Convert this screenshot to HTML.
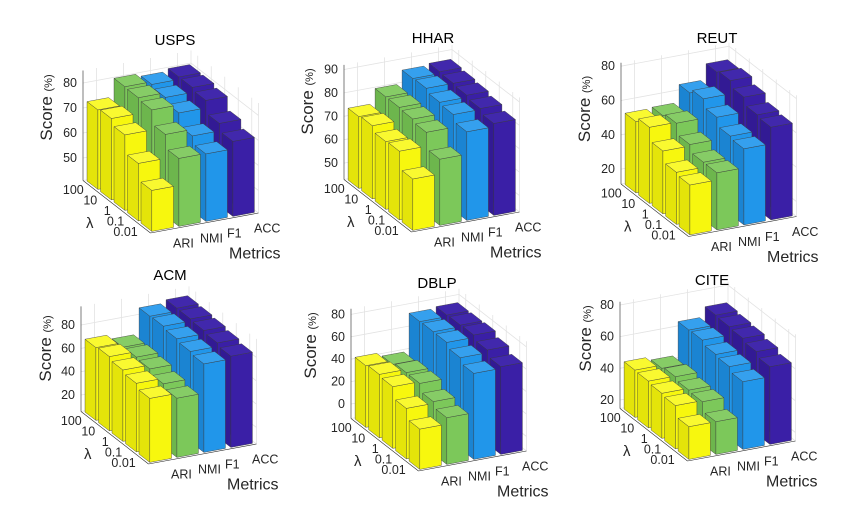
<!DOCTYPE html>
<html><head><meta charset="utf-8"><style>
html,body{margin:0;padding:0;background:#fff;}
svg{display:block;font-family:"Liberation Sans",sans-serif;}
</style></head><body>
<svg id="fig" width="849" height="519" viewBox="0 0 849 519" xmlns="http://www.w3.org/2000/svg"></svg>
<script>
// ---- data (rows: lambda 100,10,1,0.1,0.01; columns by metric) ----
const lambdas = ["100","10","1","0.1","0.01"];
const metrics = ["ARI","NMI","F1","ACC"];
const datasets = ["USPS","HHAR","REUT","ACM","DBLP","CITE"];
const uspsARI = [72.8,73.6,71.2,64.0,57.4];
const uspsNMI = [80.1,79.9,79.2,73.6,68.2];
const uspsF1  = [79.0,78.0,76.0,71.0,68.0];
const uspsACC = [80.0,80.0,79.0,74.0,71.0];
const hharARI = [73.7,74.3,72.0,72.4,65.0];
const hharNMI = [80.0,80.0,79.5,78.3,71.3];
const hharF1  = [85.7,86.0,84.5,83.8,80.9];
const hharACC = [86.5,86.0,85.4,84.2,82.3];
const reutARI = [52.9,55.7,48.0,41.7,40.4];
const reutNMI = [53.5,55.2,48.9,44.7,44.6];
const reutF1  = [63.8,66.5,61.9,57.0,55.7];
const reutACC = [73.0,74.2,70.7,66.5,65.4];
const acmARI = [68.3,69.6,67.1,64.7,60.8];
const acmNMI = [64.4,64.9,63.8,60.0,56.7];
const acmF1  = [86.7,87.1,85.3,83.4,81.8];
const acmACC = [89.3,89.1,88.1,86.5,84.1];
const dblpARI = [42.2,43.8,42.2,32.2,23.1];
const dblpNMI = [38.9,40.9,40.7,33.8,28.8];
const dblpF1  = [72.6,73.0,72.8,68.5,63.9];
const dblpACC = [74.0,74.4,74.9,70.9,65.4];
const citeARI = [44.5,44.2,43.1,42.0,35.3];
const citeNMI = [42.5,43.8,42.0,41.3,35.3];
const citeF1  = [63.5,63.8,61.4,60.3,57.4];
const citeACC = [69.8,69.1,68.4,66.6,63.7];
const uspsTicks = [50,60,70,80];
const hharTicks = [50,60,70,80,90];
const reutTicks = [20,40,60,80];
const acmTicks = [20,40,60,80];
const dblpTicks = [0,20,40,60,80];
const citeTicks = [20,40,60,80];

// ---- layout ----
const panels = [
 {name:"USPS", ox:83, oy:180.5, k:2.5,   zmin:41,   zmax:85, ticks:uspsTicks, series:[uspsARI,uspsNMI,uspsF1,uspsACC], title:[175,45], sx:-37,sy:-73},
 {name:"HHAR", ox:344,oy:179.5, k:2.34,  zmin:43,   zmax:92, ticks:hharTicks, series:[hharARI,hharNMI,hharF1,hharACC], title:[433,43], sx:-37,sy:-78},
 {name:"REUT", ox:621,oy:184,   k:1.715, zmin:11.3, zmax:82, ticks:reutTicks, series:[reutARI,reutNMI,reutF1,reutACC], title:[717,43], sx:-37,sy:-75},
 {name:"ACM",  ox:81, oy:411.5, k:1.167, zmin:5.9,  zmax:96, ticks:acmTicks,  series:[acmARI,acmNMI,acmF1,acmACC], title:[170,280], sx:-36,sy:-63},
 {name:"DBLP", ox:351,oy:418.5, k:1.121, zmin:-12.9,zmax:85, ticks:dblpTicks, series:[dblpARI,dblpNMI,dblpF1,dblpACC], title:[437,288], sx:-41,sy:-73},
 {name:"CITE", ox:620,oy:408.5, k:1.583, zmin:14.6, zmax:82, ticks:citeTicks, series:[citeARI,citeNMI,citeF1,citeACC], title:[712,285], sx:-35,sy:-70}
];
const L = [13.5,10.5], M = [27,-5];
const colors = [["#f7f70e","#e4e40a","#f9f930"],["#7cc85a","#6db64d","#86cc66"],["#2196ea","#1b84d2","#35a0ee"],["#3a1fa6","#321a94","#4128ac"]];
const NS = "http://www.w3.org/2000/svg";
const svg = document.getElementById("fig");
function mk(tag, attrs, parent){const e=document.createElementNS(NS,tag);for(const a in attrs)e.setAttribute(a,attrs[a]);(parent||svg).appendChild(e);return e;}

panels.forEach((p,pi)=>{
  const g = mk("g",{});
  
  
  const P = (i,j,z)=>[p.ox+(i+0.5)*L[0]+(j+0.5)*M[0], p.oy+(i+0.5)*L[1]+(j+0.5)*M[1]-(z-p.zmin)*p.k];
  const pts = a=>a.map(q=>q[0].toFixed(1)+","+q[1].toFixed(1)).join(" ");
  const grid = mk("g",{stroke:"#e3e3e3","stroke-width":"0.8",fill:"none"},g);
  
  
  p.ticks.forEach(t=>{
    let a=P(-0.5,-0.5,t),b=P(-0.5,3.5,t),c=P(4.5,3.5,t);
    mk("polyline",{points:pts([a,b,c])},grid);
  });
  for(let j=0;j<4;j++){let a=P(-0.5,j,p.zmin),b=P(-0.5,j,p.zmax);mk("line",{x1:a[0],y1:a[1],x2:b[0],y2:b[1]},grid);}
  for(let i=0;i<5;i++){let a=P(i,3.5,p.zmin),b=P(i,3.5,p.zmax);mk("line",{x1:a[0],y1:a[1],x2:b[0],y2:b[1]},grid);}
  {let a=P(-0.5,3.5,p.zmin),b=P(-0.5,3.5,p.zmax);mk("line",{x1:a[0],y1:a[1],x2:b[0],y2:b[1]},grid);
   let c=P(4.5,3.5,p.zmin),d=P(4.5,3.5,p.zmax);mk("line",{x1:c[0],y1:c[1],x2:d[0],y2:d[1]},grid);
   mk("polyline",{points:pts([P(-0.5,-0.5,p.zmin),P(-0.5,3.5,p.zmin),P(4.5,3.5,p.zmin)])},grid);}
  const ax = mk("g",{stroke:"#262626","stroke-width":"0.6",fill:"none"},g);
  
  
  {let a=P(-0.5,-0.5,p.zmin),b=P(-0.5,-0.5,p.zmax);mk("line",{x1:a[0],y1:a[1],x2:b[0],y2:b[1]},ax);
   let c=P(4.5,-0.5,p.zmin);mk("line",{x1:a[0],y1:a[1],x2:c[0],y2:c[1]},ax);
   let d=P(4.5,3.5,p.zmin);mk("line",{x1:c[0],y1:c[1],x2:d[0],y2:d[1]},ax);}
  for(let j=3;j>=0;j--){
    for(let i=0;i<5;i++){
      const v = p.series[j][i];
      const bg = mk("g",{stroke:"#3a3a3a","stroke-width":"0.4","stroke-linejoin":"round"},g);
      
      
      const z0=p.zmin, i0=i-0.4, i1=i+0.4, j0=j-0.4, j1=j+0.4;
      mk("polygon",{points:pts([P(i0,j0,z0),P(i1,j0,z0),P(i1,j0,v),P(i0,j0,v)]),fill:colors[j][1]},bg);
      mk("polygon",{points:pts([P(i1,j0,z0),P(i1,j1,z0),P(i1,j1,v),P(i1,j0,v)]),fill:colors[j][0]},bg);
      mk("polygon",{points:pts([P(i0,j0,v),P(i1,j0,v),P(i1,j1,v),P(i0,j1,v)]),fill:colors[j][2]},bg);
    }
  }
  p.ticks.forEach(t=>{
    const a=P(-0.5,-0.5,t);
    const tl = mk("text",{x:a[0]-6,y:a[1]+4,"text-anchor":"end","font-size":"12.5",fill:"#262626"},g);
    tl.textContent=t;
    
    
  });
  lambdas.forEach((l,i)=>{
    const a=P(i,-0.5,p.zmin);
    const tl = mk("text",{x:a[0]-6,y:a[1]+8,"text-anchor":"end","font-size":"12.5",fill:"#262626"},g);
    tl.textContent=l;
    
    
  });
  {const a=P(2,-0.5,p.zmin);
   const t=mk("text",{x:a[0]-27,y:a[1]+21,"text-anchor":"middle","font-size":"15",fill:"#262626"},g);
   t.textContent="λ";
   
   }
  metrics.forEach((m,j)=>{
    const a=P(4.5,j,p.zmin);
    const tl = mk("text",{x:a[0]+9,y:a[1]+17,"font-size":"12.5",fill:"#262626"},g);
    tl.textContent=m;
    
    
  });
  {const t=mk("text",{x:p.ox+146,y:p.oy+78,"font-size":"16",fill:"#262626"},g);
   t.textContent="Metrics";
   
   }
  {const cx=p.ox+p.sx, cy=p.oy+p.sy;
   const t=mk("text",{x:cx,y:cy,"text-anchor":"middle","font-size":"17",fill:"#262626",transform:`rotate(-90 ${cx} ${cy})`,dy:"6"},g);
   
   
   const s1=mk("tspan",{},t);s1.textContent="Score ";
   const s2=mk("tspan",{"font-size":"11"},t);s2.textContent="(%)";}
  {const t=mk("text",{x:p.title[0],y:p.title[1],"text-anchor":"middle","font-size":"15",fill:"#000"},g);
   t.textContent=p.name;
   
   }
});
</script>
</body></html>
